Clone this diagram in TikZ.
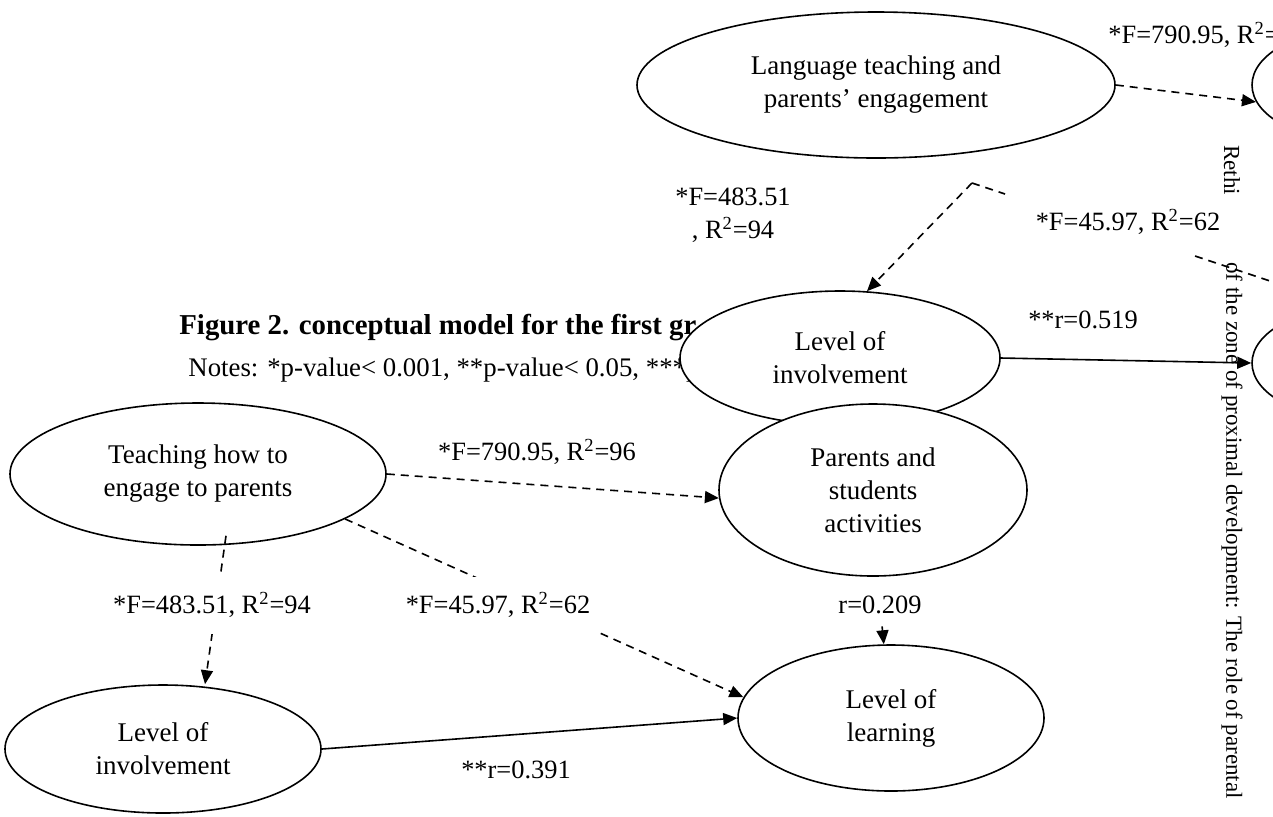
\documentclass[tikz,border=0pt]{standalone}
\usepackage{fontspec}
\setmainfont{Liberation Serif}
\usetikzlibrary{shapes,arrows.meta,positioning,calc}

\tikzset{
  oval/.style={ellipse, draw, fill=white, line width=0.8pt, inner sep=0pt,
    align=center, font=\fontsize{13.5}{16.5}\selectfont},
  stat/.style={font=\fontsize{13.2}{16.5}\selectfont, inner sep=0pt, align=center},
  cover/.style={stat, fill=white, inner xsep=3pt, inner ysep=8pt},
  dashseg/.style={line width=0.8pt, dash pattern=on 4pt off 3pt},
  dep/.style={dashseg, -{Triangle[length=7pt,width=6pt]}},
  cor/.style={line width=0.8pt, -{Triangle[length=7pt,width=6pt]}},
  header/.style={font=\fontsize{11.5}{14}\selectfont, rotate=-90, inner sep=0pt}
}

\begin{document}
\begin{tikzpicture}[x=0.5pt, y=-0.5pt]
\useasboundingbox (0,0) rectangle (1273,816);

% caption and notes of the lower model
\node[font=\fontsize{14.4}{16}\selectfont\bfseries, anchor=west, inner sep=0pt] (caption) at (179,328) {Figure 2. conceptual model for the first gr};
\node[font=\fontsize{13.4}{16}\selectfont, anchor=west, inner sep=0pt] (notes) at (188,370) {Notes: *p-value< 0.001, **p-value< 0.05, ***p};

% running header
\node[header] (runa) at (1232,170) {Rethi};
\node[header, anchor=west] (runb) at (1232,262) {of the zone of proximal development: The role of parental};

% upper model
\node[oval, minimum width=239pt, minimum height=73pt] (lang) at (876,85) {Language teaching and\\parents' engagement};
\node[oval, minimum width=100pt, minimum height=55pt] (outa) at (1352,85) {};
\node[oval, minimum width=160pt, minimum height=67pt] (invup) at (840,358) {Level of\\involvement};
\node[oval, minimum width=100pt, minimum height=55pt] (outb) at (1352,363) {};

% lower model
\node[oval, minimum width=154pt, minimum height=86pt] (acts) at (873,490) {Parents and\\students\\activities};
\node[oval, minimum width=188pt, minimum height=71pt] (teach) at (198,474) {Teaching how to\\engage to parents};
\node[oval, minimum width=153pt, minimum height=73pt] (learn) at (891,718) {Level of\\learning};
\node[oval, minimum width=158pt, minimum height=64pt] (invlow) at (163,749) {Level of\\involvement};

% upper connectors
\coordinate (fork) at (972,183);
\coordinate (forkend) at (1005,194);
\coordinate (cuta) at (1195,256);
\coordinate (cutb) at (1273,282);
\draw[dep] (lang.east) -- (outa.190);
\draw[dep] (fork) -- (invup.68);
\draw[dashseg] (fork) -- (forkend);
\draw[dashseg] (cuta) -- (cutb);
\draw[cor] (invup.east) -- (outb.west);

% lower connectors
\draw[dep] (teach.east) -- (acts.183);
\draw[dep] ([xshift=14pt,yshift=5pt]teach.south) -- ([xshift=21pt]invlow.north);
\draw[dep] (teach.-17) -- (learn.172);
\draw[cor] (invlow.east) -- (learn.west);

% statistics
\node[stat, anchor=west] (fa) at (1108,35) {*F=790.95, R\textsuperscript{2}=};
\node[stat] (fb) at (733,215) {*F=483.51\\, R\textsuperscript{2}=94};
\node[stat] (fc) at (1128,222) {*F=45.97, R\textsuperscript{2}=62};
\node[stat] (ra) at (1083,320) {**r=0.519};
\node[stat] (fd) at (537,452) {*F=790.95, R\textsuperscript{2}=96};
\node[cover] (fe) at (212,605) {*F=483.51, R\textsuperscript{2}=94};
\node[cover] (ff) at (498,605) {*F=45.97, R\textsuperscript{2}=62};
\node[stat] (rb) at (516,770) {**r=0.391};
\node[stat, inner ysep=6pt] (rc) at (880,605) {r=0.209};
\draw[cor] (rc) -- (learn);
\end{tikzpicture}
\end{document}
